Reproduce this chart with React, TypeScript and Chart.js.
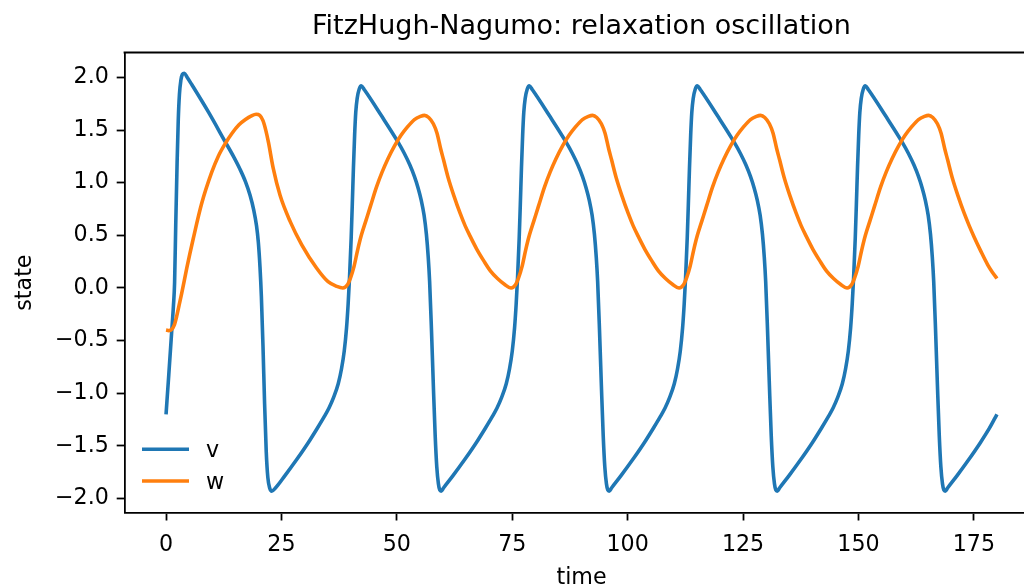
import React, { useEffect, useRef } from 'react';
import { Chart, registerables } from 'chart.js';

Chart.register(...registerables);

// ---- data ----
const seriesLabels = ['v', 'w'];
const seriesColors = ['#1f77b4', '#ff7f0e'];
const chartTitle = 'FitzHugh-Nagumo: relaxation oscillation';
const xAxisLabel = 'time';
const yAxisLabel = 'state';

const xTickValues = [0, 25, 50, 75, 100, 125, 150, 175];
const yTickValues = [-2.0, -1.5, -1.0, -0.5, 0.0, 0.5, 1.0, 1.5, 2.0];

const vTime = [
  0, 0.6, 1.2, 1.6, 1.85, 2.1, 2.4, 2.65, 2.9, 3.2, 3.55, 3.96, 4.6, 5.6, 9.2, 12.8, 14.6, 16.0, 17.2, 18.2, 19.0, 19.6, 20.0, 20.35, 20.65, 21.0, 21.35, 21.7, 22.05, 22.45, 22.9,
  23.7, 25.8, 28.3, 30.8, 32.8, 34.3, 35.3, 36.3, 37.3, 38.0, 38.6, 39.1, 39.45, 39.75, 40.1, 40.35, 40.6, 40.85, 41.1, 41.4, 41.85, 42.3, 43.0, 46.6, 50.2, 51.6, 52.8, 53.8, 54.6, 55.3, 55.9, 56.4, 56.8, 57.1, 57.5, 57.9, 58.3, 58.65, 59.0, 59.3, 59.6,
  60.1, 62.2, 64.7, 67.2, 69.2, 70.7, 71.7, 72.7, 73.7, 74.4, 75.0, 75.5, 75.85, 76.15, 76.5, 76.75, 77.0, 77.25, 77.5, 77.8, 78.25, 78.7, 79.4, 83.0, 86.6, 88.0, 89.2, 90.2, 91.0, 91.7, 92.3, 92.8, 93.2, 93.5, 93.9, 94.3, 94.7, 95.05, 95.4, 95.7, 96.0,
  96.5, 98.6, 101.1, 103.6, 105.6, 107.1, 108.1, 109.1, 110.1, 110.8, 111.4, 111.9, 112.25, 112.55, 112.9, 113.15, 113.4, 113.65, 113.9, 114.2, 114.65, 115.1, 115.8, 119.4, 123.0, 124.4, 125.6, 126.6, 127.4, 128.1, 128.7, 129.2, 129.6, 129.9, 130.3, 130.7, 131.1, 131.45, 131.8, 132.1, 132.4,
  132.9, 135.0, 137.5, 140.0, 142.0, 143.5, 144.5, 145.5, 146.5, 147.2, 147.8, 148.3, 148.65, 148.95, 149.3, 149.55, 149.8, 150.05, 150.3, 150.6, 151.05, 151.5, 152.2, 155.8, 159.4, 160.8, 162.0, 163.0, 163.8, 164.5, 165.1, 165.6, 166.0, 166.3, 166.7, 167.1, 167.5, 167.85, 168.2, 168.5, 168.8,
  169.3, 171.4, 173.9, 176.4, 178.4, 180.0,
];
const vValue = [
  -1.20, -0.82, -0.43, -0.17, 0.05, 0.60, 1.20, 1.60, 1.84, 1.97, 2.03, 2.04, 2.00, 1.93, 1.67, 1.39, 1.25, 1.13, 1.01, 0.88, 0.74, 0.59, 0.43, 0.20, -0.08, -0.55, -1.10, -1.55, -1.80, -1.90, -1.93,
  -1.90, -1.78, -1.63, -1.47, -1.33, -1.22, -1.14, -1.04, -0.91, -0.77, -0.60, -0.38, -0.15, 0.10, 0.47, 0.80, 1.15, 1.45, 1.67, 1.80, 1.89, 1.92, 1.88, 1.64, 1.39, 1.28, 1.17, 1.06, 0.95, 0.83, 0.69, 0.51, 0.29, 0.06, -0.40, -0.92, -1.40, -1.70, -1.86, -1.92, -1.93,
  -1.90, -1.78, -1.63, -1.47, -1.33, -1.22, -1.14, -1.04, -0.91, -0.77, -0.60, -0.38, -0.15, 0.10, 0.47, 0.80, 1.15, 1.45, 1.67, 1.80, 1.89, 1.92, 1.88, 1.64, 1.39, 1.28, 1.17, 1.06, 0.95, 0.83, 0.69, 0.51, 0.29, 0.06, -0.40, -0.92, -1.40, -1.70, -1.86, -1.92, -1.93,
  -1.90, -1.78, -1.63, -1.47, -1.33, -1.22, -1.14, -1.04, -0.91, -0.77, -0.60, -0.38, -0.15, 0.10, 0.47, 0.80, 1.15, 1.45, 1.67, 1.80, 1.89, 1.92, 1.88, 1.64, 1.39, 1.28, 1.17, 1.06, 0.95, 0.83, 0.69, 0.51, 0.29, 0.06, -0.40, -0.92, -1.40, -1.70, -1.86, -1.92, -1.93,
  -1.90, -1.78, -1.63, -1.47, -1.33, -1.22, -1.14, -1.04, -0.91, -0.77, -0.60, -0.38, -0.15, 0.10, 0.47, 0.80, 1.15, 1.45, 1.67, 1.80, 1.89, 1.92, 1.88, 1.64, 1.39, 1.28, 1.17, 1.06, 0.95, 0.83, 0.69, 0.51, 0.29, 0.06, -0.40, -0.92, -1.40, -1.70, -1.86, -1.92, -1.93,
  -1.90, -1.78, -1.63, -1.47, -1.33, -1.20,
];

const wTime = [
  0, 0.6, 1.2, 1.8, 2.3, 2.8, 3.4, 4.5, 5.9, 7.7, 9.9, 11.3, 12.8, 14.3, 15.8, 17.2, 18.5, 19.5, 20.3, 21.0, 21.6, 22.2, 23.2, 24.7, 26.9, 29.4, 32.6, 35.1, 37.0, 38.3,
  39.3, 40.0, 40.7, 41.5, 42.3, 43.3, 44.3, 45.6, 46.8, 48.1, 49.5, 50.9, 52.3, 53.8, 55.1, 56.0, 56.9, 57.9, 58.7, 59.5, 60.1, 61.1, 62.4, 63.7, 64.8, 65.9, 67.3, 68.8, 70.3, 71.8, 73.3, 74.75,
  75.7, 76.4, 77.1, 77.9, 78.7, 79.7, 80.7, 82.0, 83.2, 84.5, 85.9, 87.3, 88.7, 90.2, 91.5, 92.4, 93.3, 94.3, 95.1, 95.9, 96.5, 97.5, 98.8, 100.1, 101.2, 102.3, 103.7, 105.2, 106.7, 108.2, 109.7, 111.15,
  112.1, 112.8, 113.5, 114.3, 115.1, 116.1, 117.1, 118.4, 119.6, 120.9, 122.3, 123.7, 125.1, 126.6, 127.9, 128.8, 129.7, 130.7, 131.5, 132.3, 132.9, 133.9, 135.2, 136.5, 137.6, 138.7, 140.1, 141.6, 143.1, 144.6, 146.1, 147.55,
  148.5, 149.2, 149.9, 150.7, 151.5, 152.5, 153.5, 154.8, 156.0, 157.3, 158.7, 160.1, 161.5, 163.0, 164.3, 165.2, 166.1, 167.1, 167.9, 168.7, 169.3, 170.3, 171.6, 172.9, 174.0, 175.1, 176.5, 178.0, 179.0, 180.0,
];
const wValue = [
  -0.40, -0.405, -0.395, -0.35, -0.27, -0.17, -0.05, 0.19, 0.47, 0.80, 1.10, 1.25, 1.37, 1.47, 1.55, 1.60, 1.635, 1.65, 1.64, 1.59, 1.50, 1.38, 1.14, 0.88, 0.63, 0.41, 0.19, 0.06, 0.015, 0.00,
  0.03, 0.10, 0.20, 0.36, 0.50, 0.64, 0.78, 0.96, 1.10, 1.23, 1.35, 1.45, 1.53, 1.60, 1.63, 1.64, 1.62, 1.56, 1.47, 1.32, 1.22, 1.05, 0.87, 0.71, 0.59, 0.49, 0.37, 0.26, 0.16, 0.09, 0.035, 0.00,
  0.03, 0.10, 0.20, 0.36, 0.50, 0.64, 0.78, 0.96, 1.10, 1.23, 1.35, 1.45, 1.53, 1.60, 1.63, 1.64, 1.62, 1.56, 1.47, 1.32, 1.22, 1.05, 0.87, 0.71, 0.59, 0.49, 0.37, 0.26, 0.16, 0.09, 0.035, 0.00,
  0.03, 0.10, 0.20, 0.36, 0.50, 0.64, 0.78, 0.96, 1.10, 1.23, 1.35, 1.45, 1.53, 1.60, 1.63, 1.64, 1.62, 1.56, 1.47, 1.32, 1.22, 1.05, 0.87, 0.71, 0.59, 0.49, 0.37, 0.26, 0.16, 0.09, 0.035, 0.00,
  0.03, 0.10, 0.20, 0.36, 0.50, 0.64, 0.78, 0.96, 1.10, 1.23, 1.35, 1.45, 1.53, 1.60, 1.63, 1.64, 1.62, 1.56, 1.47, 1.32, 1.22, 1.05, 0.87, 0.71, 0.59, 0.48, 0.35, 0.22, 0.15, 0.09,
];

const FONT = '"DejaVu Sans", "Liberation Sans", sans-serif';
const TICK_SIZE = 22.2;
const LABEL_SIZE = 22.2;
const TITLE_SIZE = 27;
const SPINE_W = 1.78;
const LINE_W = 3.6;

function fmtY(v: number): string {
  if (Math.abs(v) < 1e-9) return '0.0';
  return (v < 0 ? '\u2212' : '') + Math.abs(v).toFixed(1);
}

const overlayPlugin = {
  id: 'overlay',
  afterDraw(chart: any) {
    const { ctx, chartArea } = chart;
    const { left, right, top, bottom } = chartArea;
    ctx.save();
    ctx.strokeStyle = '#000';
    ctx.lineWidth = SPINE_W;
    ctx.beginPath();
    ctx.moveTo(left - SPINE_W / 2, top);
    ctx.lineTo(right + SPINE_W / 2, top);
    ctx.moveTo(right, top);
    ctx.lineTo(right, bottom);
    ctx.stroke();

    ctx.fillStyle = '#000';
    ctx.font = `${TITLE_SIZE}px ${FONT}`;
    ctx.textAlign = 'center';
    ctx.textBaseline = 'alphabetic';
    ctx.fillText(chartTitle, (left + right) / 2, 33.5);
    ctx.font = `${LABEL_SIZE}px ${FONT}`;
    ctx.fillText(xAxisLabel, (left + right) / 2, 584);
    ctx.save();
    ctx.translate(30.5, (top + bottom) / 2);
    ctx.rotate(-Math.PI / 2);
    ctx.fillText(yAxisLabel, 0, 0);
    ctx.restore();

    const rows = [449.3, 481];
    ctx.font = `${LABEL_SIZE}px ${FONT}`;
    ctx.textAlign = 'left';
    rows.forEach((y, i) => {
      ctx.strokeStyle = seriesColors[i];
      ctx.lineWidth = LINE_W;
      ctx.beginPath();
      ctx.moveTo(142, y);
      ctx.lineTo(189, y);
      ctx.stroke();
      ctx.fillStyle = '#000';
      ctx.fillText(seriesLabels[i], 206, y + 8);
    });
    ctx.restore();
  },
};

export default function App() {
  const ref = useRef<HTMLCanvasElement>(null);
  useEffect(() => {
    document.body.style.margin = '0';
    const canvas = ref.current;
    if (!canvas) return;
    const chart = new Chart(canvas, {
      type: 'line',
      data: {
        datasets: [
          {
            label: seriesLabels[0],
            data: vTime.map((t, i) => ({ x: t, y: vValue[i] })),
            borderColor: seriesColors[0],
            backgroundColor: seriesColors[0],
            borderWidth: LINE_W,
            pointRadius: 0,
            cubicInterpolationMode: 'monotone',
            borderJoinStyle: 'round',
            borderCapStyle: 'butt',
            fill: false,
            order: 1,
          },
          {
            label: seriesLabels[1],
            data: wTime.map((t, i) => ({ x: t, y: wValue[i] })),
            borderColor: seriesColors[1],
            backgroundColor: seriesColors[1],
            borderWidth: LINE_W,
            pointRadius: 0,
            cubicInterpolationMode: 'monotone',
            borderJoinStyle: 'round',
            borderCapStyle: 'butt',
            fill: false,
            order: 0,
          },
        ],
      },
      options: {
        animation: false,
        responsive: false,
        devicePixelRatio: 1,
        events: [],
        layout: { padding: { left: 0, top: 52.5, right: 1.5, bottom: 0 } },
        plugins: {
          legend: { display: false },
          title: { display: false },
          tooltip: { enabled: false },
        },
        scales: {
          x: {
            type: 'linear',
            min: -9,
            max: 189,
            afterBuildTicks: (scale: any) => {
              scale.ticks = xTickValues.map((v) => ({ value: v }));
            },
            ticks: {
              autoSkip: false,
              maxRotation: 0,
              includeBounds: false,
              color: '#000',
              padding: 11,
              font: { family: FONT, size: TICK_SIZE },
              callback: (v: any) => String(v),
            },
            grid: {
              drawOnChartArea: false,
              drawTicks: true,
              tickLength: 7.8,
              tickWidth: SPINE_W,
              tickColor: '#000',
            },
            border: { display: true, color: '#000', width: SPINE_W },
            afterFit: (scale: any) => {
              scale.height = 74.3;
            },
          },
          y: {
            type: 'linear',
            min: -2.135,
            max: 2.237,
            afterBuildTicks: (scale: any) => {
              scale.ticks = yTickValues.map((v) => ({ value: v }));
            },
            ticks: {
              autoSkip: false,
              includeBounds: false,
              color: '#000',
              padding: 7.8,
              font: { family: FONT, size: TICK_SIZE },
              callback: (v: any) => fmtY(Number(v)),
            },
            grid: {
              drawOnChartArea: false,
              drawTicks: true,
              tickLength: 7.8,
              tickWidth: SPINE_W,
              tickColor: '#000',
            },
            border: { display: true, color: '#000', width: SPINE_W },
            afterFit: (scale: any) => {
              scale.width = 124.5;
            },
          },
        },
      },
      plugins: [overlayPlugin],
    } as any);
    return () => chart.destroy();
  }, []);

  return (
    <div
      style={{
        position: 'fixed',
        left: 0,
        top: 0,
        width: 1024,
        height: 587,
        overflow: 'hidden',
        background: '#fff',
      }}
    >
      <canvas ref={ref} width={1040} height={587} style={{ display: 'block', width: 1040, height: 587 }} />
    </div>
  );
}
